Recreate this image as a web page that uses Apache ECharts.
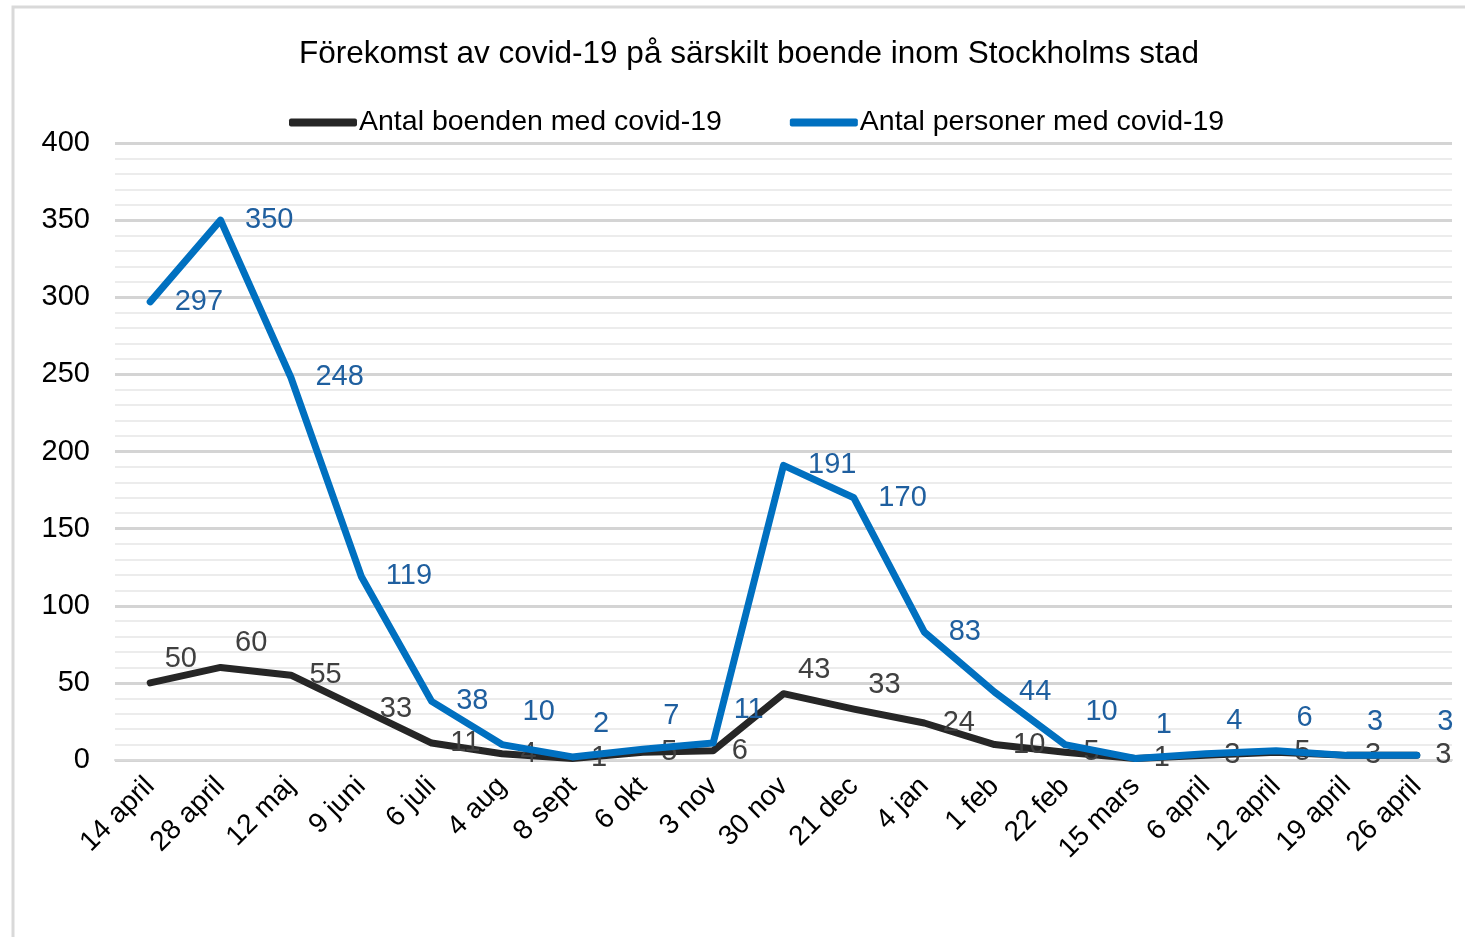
<!DOCTYPE html>
<html>
<head>
<meta charset="utf-8">
<script src="https://cdn.jsdelivr.net/npm/echarts@6/dist/echarts.min.js"></script>
<style>
  html, body { margin: 0; padding: 0; background: #fff; }
  #chart { width: 1465px; height: 937px; }
</style>
</head>
<body>
<div id="chart"></div>
<script>
// datum för mätningarna
const categories = [
  '14 april', '28 april', '12 maj', '9 juni', '6 juli', '4 aug', '8 sept', '6 okt', '3 nov',
  '30 nov', '21 dec', '4 jan', '1 feb', '22 feb', '15 mars', '6 april', '12 april', '19 april', '26 april'
]
const boenden = [50, 60, 55, 33, 11, 4, 1, 5, 6, 43, 33, 24, 10, 5, 1, 3, 5, 3, 3]
const personer = [297, 350, 248, 119, 38, 10, 2, 7, 11, 191, 170, 83, 44, 10, 1, 4, 6, 3, 3]
const yTicks = [0, 50, 100, 150, 200, 250, 300, 350, 400]

// etiketter som flyttats upp ovanför linjen (som i originalet)
const liftedBoenden = [0, 1, 9, 10]
const liftedPersoner = [5, 6, 7, 8, 13, 14, 15, 16, 17, 18]

const FONT = '"Liberation Sans", Arial, sans-serif'

function withLabels(values, lifted, dy) {
  return values.map((v, i) => lifted.includes(i)
    ? { value: v, label: { offset: [-4, dy] } }
    : v)
}

const chart = echarts.init(document.getElementById('chart'))
chart.setOption({
  animation: false,
  textStyle: { fontFamily: FONT },
  title: {
    text: 'Förekomst av covid-19 på särskilt boende inom Stockholms stad',
    left: 294,
    top: 33,
    textStyle: { fontSize: 31.5, fontWeight: 'normal', color: '#000', fontFamily: FONT }
  },
  legend: {
    top: 103,
    left: 284,
    itemWidth: 68,
    itemHeight: 8,
    itemGap: 68,
    icon: 'roundRect',
    textStyle: { fontSize: 28.5, color: '#000', fontFamily: FONT, padding: [0, 0, 0, -3] },
    data: ['Antal boenden med covid-19', 'Antal personer med covid-19']
  },
  graphic: [{
    type: 'rect',
    shape: { x: 13, y: 7, width: 1470, height: 950 },
    style: { fill: 'none', stroke: '#d9d9d9', lineWidth: 3 },
    silent: true
  }],
  grid: { left: 115, right: 13, top: 143, bottom: 177 },
  xAxis: {
    type: 'category',
    data: categories,
    boundaryGap: true,
    axisLine: { lineStyle: { color: '#d9d9d9', width: 2 } },
    axisTick: { show: false },
    axisLabel: {
      rotate: 45,
      fontSize: 28,
      color: '#000',
      margin: 22,
      fontFamily: FONT
    }
  },
  yAxis: {
    type: 'value',
    min: yTicks[0],
    max: yTicks[yTicks.length - 1],
    interval: 50,
    axisLine: { show: false },
    axisTick: { show: false },
    axisLabel: { fontSize: 29, color: '#000', margin: 25, fontFamily: FONT },
    splitLine: { lineStyle: { color: '#d4d4d4', width: 3 } },
    minorTick: { show: false, splitNumber: 5 },
    minorSplitLine: { show: true, lineStyle: { color: '#ececec', width: 2 } }
  },
  series: [
    {
      name: 'Antal boenden med covid-19',
      type: 'line',
      data: withLabels(boenden, liftedBoenden, -24),
      symbol: 'circle',
      symbolSize: 1,
      color: '#262626',
      lineStyle: { width: 7, color: '#262626', cap: 'round', join: 'round' },
      label: {
        show: true,
        position: 'right',
        distance: 18,
        fontSize: 29,
        color: '#404040',
        fontFamily: FONT
      },
      z: 2
    },
    {
      name: 'Antal personer med covid-19',
      type: 'line',
      data: withLabels(personer, liftedPersoner, -33),
      symbol: 'circle',
      symbolSize: 1,
      color: '#0070c0',
      lineStyle: { width: 7, color: '#0070c0', cap: 'round', join: 'round' },
      label: {
        show: true,
        position: 'right',
        distance: 24,
        fontSize: 29,
        color: '#1f5f9f',
        fontFamily: FONT
      },
      z: 3
    }
  ]
})
</script>
</body>
</html>
